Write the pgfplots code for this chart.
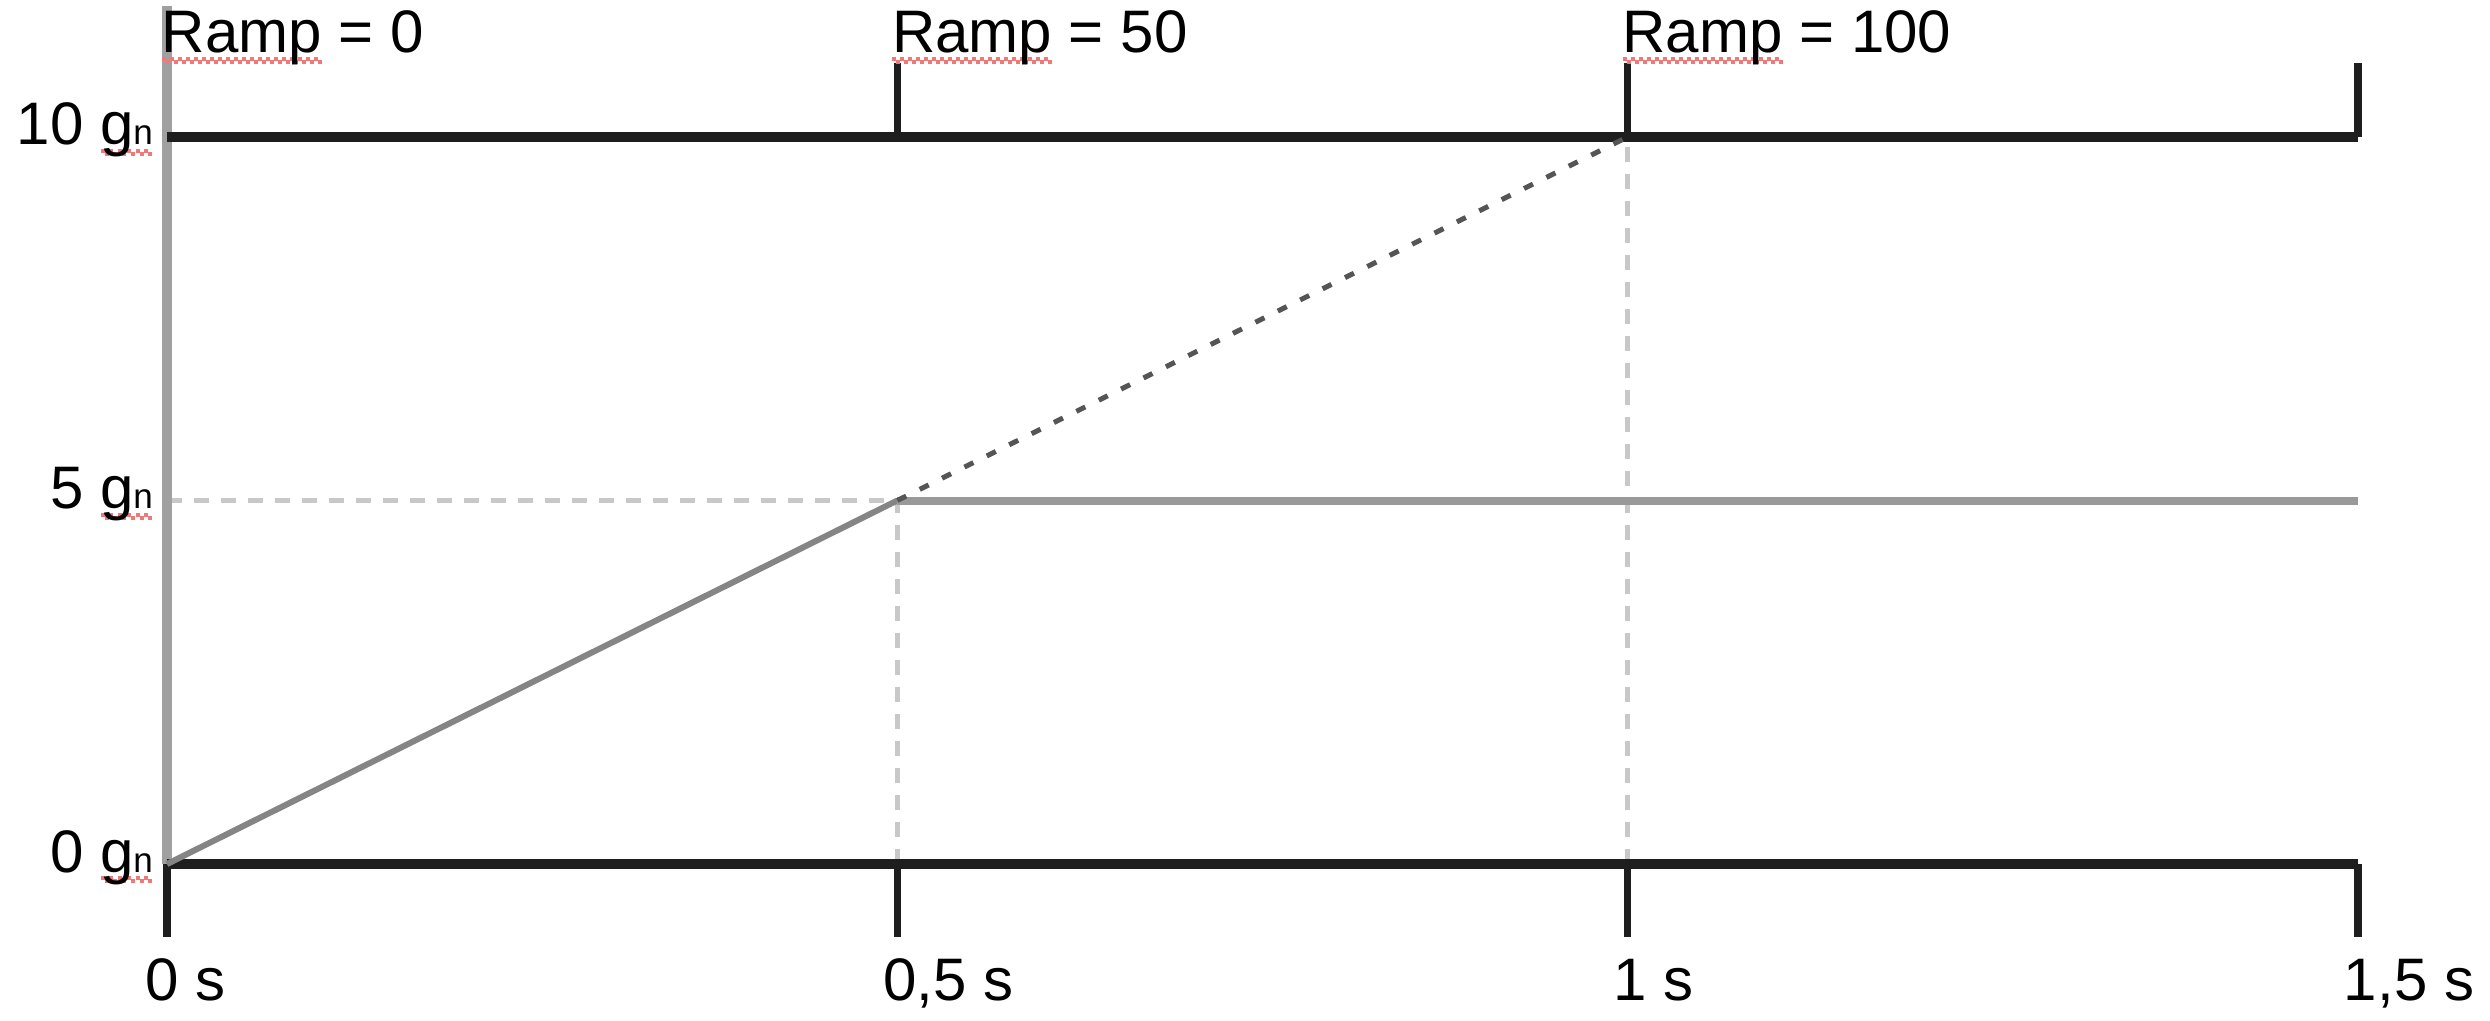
\documentclass[border=0pt]{standalone}
\usepackage{pgfplots}
\pgfplotsset{compat=1.18}
\usepackage{fontspec}
\setmainfont{Liberation Sans}
\usepackage{xcolor}

\definecolor{axisblack}{HTML}{1E1E1E}
\definecolor{leftgray}{HTML}{A0A0A0}
\definecolor{rampgray}{HTML}{858585}
\definecolor{plateau}{HTML}{999999}
\definecolor{dashdark}{HTML}{555555}
\definecolor{guide}{HTML}{C8C8C8}
\definecolor{spell}{HTML}{F07878}

% spell-check style wavy underline: #1 = drop below baseline, #2 = text
\newcommand{\squig}[2]{%
  \setbox0=\hbox{#2}%
  \rlap{\raisebox{-#1}[0pt][0pt]{\color{spell}\hbox to \wd0{\xleaders\hbox to 1.6pt{\raise0.6pt\hbox{\vrule width 0.8pt height 0.8pt depth 0pt}\vrule width 0.8pt height 0.8pt depth 0pt}\hfill}}}%
  \box0\relax}

\begin{document}
\begin{tikzpicture}
\begin{axis}[
  hide axis,
  x=292.1pt, y=14.54pt,
  xmin=0, xmax=1.5, ymin=0, ymax=10,
  clip=false,
]
% light dashed guide lines
\addplot[guide, line width=1pt, dash pattern=on 3pt off 2.4pt] coordinates {(0,5) (0.5,5)};
\addplot[guide, line width=1pt, dash pattern=on 3pt off 2.4pt] coordinates {(0.5,0) (0.5,5)};
\addplot[guide, line width=1pt, dash pattern=on 3pt off 2.4pt] coordinates {(1,0) (1,10)};
% left gray axis line
\addplot[leftgray, line width=2pt] coordinates {(0,0) (0,11.8)};
% top and bottom black lines
\addplot[axisblack, line width=2pt] coordinates {(0,10) (1.5,10)};
\addplot[axisblack, line width=2pt] coordinates {(0,0) (1.5,0)};
% top ticks
\addplot[axisblack, line width=1.4pt] coordinates {(0.5,10) (0.5,11.02)};
\addplot[axisblack, line width=1.4pt] coordinates {(1,10) (1,11.02)};
\addplot[axisblack, line width=1.6pt] coordinates {(1.5,10) (1.5,11.02)};
% bottom ticks
\addplot[axisblack, line width=1.6pt] coordinates {(0,0) (0,-1.0)};
\addplot[axisblack, line width=1.4pt] coordinates {(0.5,0) (0.5,-1.0)};
\addplot[axisblack, line width=1.4pt] coordinates {(1,0) (1,-1.0)};
\addplot[axisblack, line width=1.6pt] coordinates {(1.5,0) (1.5,-1.0)};
% ramp, plateau and extrapolated ramp
\addplot[rampgray, line width=1.2pt] coordinates {(0,0) (0.5,5)};
\addplot[plateau, line width=1.6pt] coordinates {(0.5,5) (1.5,5)};
\addplot[dashdark, line width=1pt, dash pattern=on 2pt off 3pt] coordinates {(0.5,5) (1,10)};

% top labels
\node[anchor=base west, inner sep=0pt, xshift=-1.2pt, font=\fontsize{12}{14}\selectfont] at (axis cs:0,11.155) {\squig{2.2pt}{Ramp} = 0};
\node[anchor=base west, inner sep=0pt, xshift=-1.2pt, font=\fontsize{12}{14}\selectfont] at (axis cs:0.5,11.155) {\squig{2.2pt}{Ramp} = 50};
\node[anchor=base west, inner sep=0pt, xshift=-1.2pt, font=\fontsize{12}{14}\selectfont] at (axis cs:1,11.155) {\squig{2.2pt}{Ramp} = 100};
% x labels
\node[anchor=base west, inner sep=0pt, xshift=-4.5pt, font=\fontsize{12}{14}\selectfont] at (axis cs:0,-1.871) {0 s};
\node[anchor=base west, inner sep=0pt, xshift=-3pt, font=\fontsize{12}{14}\selectfont] at (axis cs:0.5,-1.871) {0,5 s};
\node[anchor=base west, inner sep=0pt, xshift=-3pt, font=\fontsize{12}{14}\selectfont] at (axis cs:1,-1.871) {1 s};
\node[anchor=base west, inner sep=0pt, xshift=-3pt, font=\fontsize{12}{14}\selectfont] at (axis cs:1.5,-1.871) {1,5 s};
% y labels
\node[anchor=base east, inner sep=0pt, xshift=-2.6pt, yshift=-1.6pt, font=\fontsize{12}{14}\selectfont] at (axis cs:0,10) {10 \squig{2.2pt}{g{\fontsize{7}{8}\selectfont n}}};
\node[anchor=base east, inner sep=0pt, xshift=-2.6pt, yshift=-1.6pt, font=\fontsize{12}{14}\selectfont] at (axis cs:0,5) {5 \squig{2.2pt}{g{\fontsize{7}{8}\selectfont n}}};
\node[anchor=base east, inner sep=0pt, xshift=-2.6pt, yshift=-1.6pt, font=\fontsize{12}{14}\selectfont] at (axis cs:0,0) {0 \squig{2.2pt}{g{\fontsize{7}{8}\selectfont n}}};

\coordinate (bbl) at (axis cs:-0.1143,-2.146);
\coordinate (btr) at (axis cs:1.5904,11.884);
\end{axis}
\pgfresetboundingbox
\useasboundingbox (bbl) rectangle (btr);
\end{tikzpicture}
\end{document}
